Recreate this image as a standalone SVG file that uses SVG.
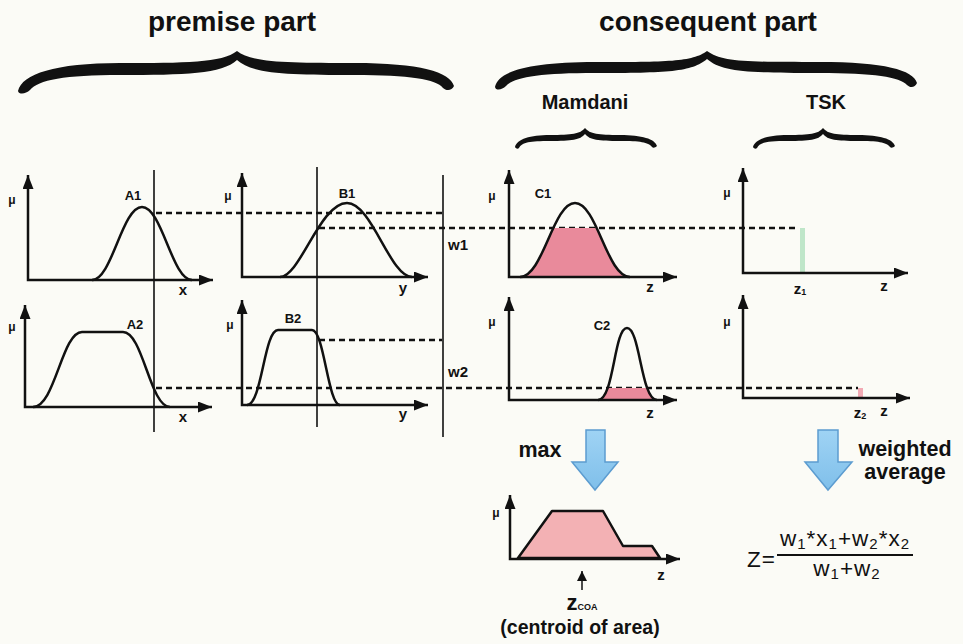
<svg xmlns="http://www.w3.org/2000/svg" width="963" height="644" viewBox="0 0 963 644">
<defs>
<style>
text{font-family:"Liberation Sans",Arial,Helvetica,sans-serif;fill:#111}
.h1{font-size:28px;font-weight:bold;text-anchor:middle}
.h2{font-size:20px;font-weight:bold;text-anchor:middle}
.lb{font-size:13px;font-weight:bold;text-anchor:middle;dominant-baseline:central}
.mu{font-size:12px;font-weight:bold;text-anchor:middle;dominant-baseline:central}
.ax{font-size:15px;font-weight:bold;text-anchor:middle;dominant-baseline:central}
.w{font-size:15px;font-weight:bold;text-anchor:middle;dominant-baseline:central}
.big{font-size:21.5px;font-weight:bold;text-anchor:middle}
.fm{font-size:22.5px;letter-spacing:1px}
.axis{fill:none;stroke:#111;stroke-width:2.5;marker-start:url(#ah);marker-end:url(#ah)}
.curve{fill:none;stroke:#111;stroke-width:2.5;stroke-linejoin:round}
.vl{stroke:#111;stroke-width:1.6}
.dash{stroke:#111;stroke-width:2.5;stroke-dasharray:6 4}
.brace{fill:#111}
.pink{fill:#e98a9b}
.blue{fill:url(#bg);stroke:#5c9cd0;stroke-width:1.5}
</style>
<linearGradient id="bg" x1="0" y1="0" x2="0" y2="1">
<stop offset="0" stop-color="#9fd3f4"/>
<stop offset="1" stop-color="#7fbfea"/>
</linearGradient>
<marker id="ah" markerUnits="userSpaceOnUse" markerWidth="15" markerHeight="12" refX="14" refY="5.5" orient="auto-start-reverse">
<path d="M0,0 L14,5.5 L0,11 Z" fill="#111"/>
</marker>
<marker id="sa" markerUnits="userSpaceOnUse" markerWidth="12" markerHeight="12" refX="10" refY="5" orient="auto">
<path d="M0,0 L10,5 L0,10 Z" fill="#111"/>
</marker>
<clipPath id="clipC1"><rect x="500" y="228" width="150" height="50"/></clipPath>
<clipPath id="clipC2"><rect x="590" y="388" width="80" height="13"/></clipPath>
</defs>
<rect width="963" height="644" fill="#fbfbf6"/>

<g id="headers">
<text class="h1" x="232" y="31">premise part</text>
<text class="h1" x="708" y="31">consequent part</text>
<path class="brace" d="M18,91 C22,74 55,63 120,63 C185,63 222,63 237,51 C252,63 289,63 354,63 C420,63 450,72 454,86 C452,91 446,91 443,88 C436,79 410,75 354,75 C289,75 252,74 237,60 C222,74 185,75 120,75 C65,75 38,80 30,90 C26,94 19,95 18,91 Z"/>
<path class="brace" d="M495,87 C498,71 530,62 595,62 C667,62 692,62 707,51 C722,62 747,62 819,62 C885,62 913,70 917,83 C915,88 910,88 907,85 C900,77 874,73 819,73 C747,73 722,72 707,59 C692,72 667,73 595,73 C540,73 514,77 506,86 C502,90 496,91 495,87 Z"/>
<text class="h2" x="585" y="109">Mamdani</text>
<text class="h2" x="826" y="109">TSK</text>
<path class="brace" d="M515,147 C517,139 530,135 550,135 C572,135 580,134 585,128 C590,134 598,135 620,135 C642,135 655,139 657,146 C655,148 653,148 652,147 C648,142 640,141 620,141 C598,141 590,140 585,134 C580,140 572,141 550,141 C530,141 522,142 519,148 C518,149 516,149 515,147 Z"/>
<path class="brace" transform="translate(238,0)" d="M515,147 C517,139 530,135 550,135 C572,135 580,134 585,128 C590,134 598,135 620,135 C642,135 655,139 657,146 C655,148 653,148 652,147 C648,142 640,141 620,141 C598,141 590,140 585,134 C580,140 572,141 550,141 C530,141 522,142 519,148 C518,149 516,149 515,147 Z"/>
</g>

<g id="connectors">
<line class="vl" x1="154" y1="170" x2="154" y2="432"/>
<line class="vl" x1="317" y1="167" x2="317" y2="427"/>
<line class="vl" x1="443" y1="175" x2="443" y2="437"/>
<line class="dash" x1="156" y1="213" x2="442" y2="213"/>
<line class="dash" x1="319" y1="228" x2="799" y2="228"/>
<line class="dash" x1="319" y1="340" x2="442" y2="340"/>
<line class="dash" x1="156" y1="388" x2="858" y2="388"/>
<text class="w" x="458" y="244">w1</text>
<text class="w" x="458" y="371">w2</text>
</g>

<g id="A1">
<path class="axis" d="M28,175 L28,280 L213,280"/>
<path class="curve" d="M92,280 C112,280 122,207 142,207 C162,207 172,280 192,280"/>
<text class="mu" x="12" y="200">μ</text>
<text class="lb" x="133" y="195">A1</text>
<text class="ax" x="183" y="289">x</text>
</g>

<g id="B1">
<path class="axis" d="M242,173 L242,277 L428,277"/>
<path class="curve" d="M280,277 C300,277 320,203 347,203 C372,203 390,277 412,277"/>
<text class="mu" x="228" y="196">μ</text>
<text class="lb" x="347" y="193">B1</text>
<text class="ax" x="403" y="287">y</text>
</g>

<g id="A2">
<path class="axis" d="M25,305 L25,407 L212,407"/>
<path class="curve" d="M33,407 C55,407 62,332 82,332 L123,332 C143,332 150,407 170,407"/>
<text class="mu" x="12" y="327">μ</text>
<text class="lb" x="135" y="324">A2</text>
<text class="ax" x="183" y="416">x</text>
</g>

<g id="B2">
<path class="axis" d="M242,300 L242,405 L428,405"/>
<path class="curve" d="M247,405 C262,405 264,330 278,330 L312,330 C324,330 328,405 340,405"/>
<text class="mu" x="230" y="325">μ</text>
<text class="lb" x="293" y="318">B2</text>
<text class="ax" x="403" y="413">y</text>
</g>

<g id="C1">
<path class="pink" clip-path="url(#clipC1)" d="M520,277 C543,277 553,203 575,203 C597,203 607,277 630,277 Z"/>
<path class="axis" d="M509,170 L509,277 L677,277"/>
<path class="curve" d="M520,277 C543,277 553,203 575,203 C597,203 607,277 630,277"/>
<text class="mu" x="492" y="196">μ</text>
<text class="lb" x="543" y="193">C1</text>
<text class="ax" x="650" y="286">z</text>
</g>

<g id="C2">
<path class="pink" clip-path="url(#clipC2)" d="M598,400 C614,400 614,328 627,328 C640,328 641,400 657,400 Z"/>
<path class="axis" d="M509,297 L509,400 L677,400"/>
<path class="curve" d="M598,400 C614,400 614,328 627,328 C640,328 641,400 657,400"/>
<text class="mu" x="492" y="322">μ</text>
<text class="lb" x="602" y="325">C2</text>
<text class="ax" x="650" y="412">z</text>
</g>

<g id="TSK1">
<rect x="800" y="228" width="5" height="45" fill="#bfe6c9"/>
<path class="axis" d="M743,168 L743,273 L908,273"/>
<text class="mu" x="727" y="193">μ</text>
<text class="ax" x="800" y="288">z<tspan font-size="9" dy="4">1</tspan></text>
<text class="ax" x="884" y="285">z</text>
</g>

<g id="TSK2">
<rect x="858" y="388" width="5" height="10" fill="#f2aab4"/>
<path class="axis" d="M743,295 L743,398 L910,398"/>
<text class="mu" x="727" y="322">μ</text>
<text class="ax" x="860" y="412">z<tspan font-size="9" dy="4">2</tspan></text>
<text class="ax" x="884" y="410">z</text>
</g>

<g id="maxArrow">
<polygon class="blue" points="586,430 605,430 605,462 618,462 595,490 572,462 586,462"/>
<text class="big" x="540" y="457">max</text>
</g>

<g id="wavgArrow">
<polygon class="blue" points="818,430 838,430 838,462 852,462 828,490 805,462 818,462"/>
<text class="big" x="905" y="456">weighted</text>
<text class="big" x="905" y="479">average</text>
</g>

<g id="aggregate">
<polygon points="518,558 552,511 603,511 623,546 652,546 660,558" fill="#f3b1b4" stroke="#111" stroke-width="2.5" stroke-linejoin="round"/>
<path class="axis" d="M510,495 L510,559 L680,559"/>
<text class="mu" x="496" y="513">μ</text>
<text class="ax" x="661" y="574">z</text>
<line x1="582" y1="590" x2="582" y2="571" stroke="#111" stroke-width="1.5" marker-end="url(#sa)"/>
<text x="582" y="610" text-anchor="middle" font-weight="bold" font-size="22">z<tspan font-size="9">COA</tspan></text>
<text x="580" y="634" text-anchor="middle" font-weight="bold" font-size="19.5">(centroid of area)</text>
</g>

<g id="formula">
<text class="fm" x="747" y="567">Z=</text>
<line x1="777" y1="555" x2="913" y2="555" stroke="#111" stroke-width="1.8"/>
<text class="fm" x="845" y="546" text-anchor="middle">w<tspan font-size="15" dy="3">1</tspan><tspan dy="-3">*x</tspan><tspan font-size="15" dy="3">1</tspan><tspan dy="-3">+w</tspan><tspan font-size="15" dy="3">2</tspan><tspan dy="-3">*x</tspan><tspan font-size="15" dy="3">2</tspan></text>
<text class="fm" x="847" y="576" text-anchor="middle">w<tspan font-size="15" dy="3">1</tspan><tspan dy="-3">+w</tspan><tspan font-size="15" dy="3">2</tspan></text>
</g>
</svg>
